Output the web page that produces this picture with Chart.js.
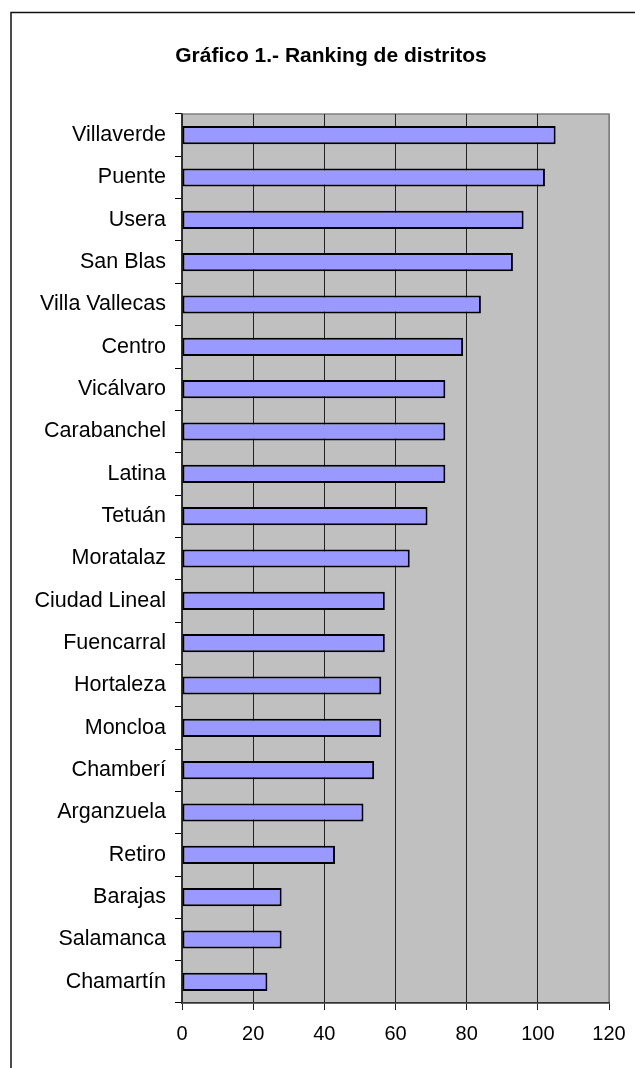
<!DOCTYPE html>
<html>
<head>
<meta charset="utf-8">
<script src="https://cdn.jsdelivr.net/npm/chart.js@4.4.1/dist/chart.umd.min.js"></script>
<style>
  html, body { margin: 0; padding: 0; background: #fff; }
  #wrap { position: relative; width: 635px; height: 1068px; }
</style>
</head>
<body>
<div id="wrap"><canvas id="rankingChart" width="635" height="1068"></canvas></div>
<script>
// Data
const districts = ['Villaverde', 'Puente', 'Usera', 'San Blas', 'Villa Vallecas', 'Centro',
    'Vicálvaro', 'Carabanchel', 'Latina', 'Tetuán', 'Moratalaz', 'Ciudad Lineal',
    'Fuencarral', 'Hortaleza', 'Moncloa', 'Chamberí', 'Arganzuela', 'Retiro',
    'Barajas', 'Salamanca', 'Chamartín'];
const rankingValues = [105, 102, 96, 93, 84, 79, 74, 74, 74, 69, 64, 57, 57, 56, 56, 54, 51, 43, 28, 28, 24];
const xTicks = [0, 20, 40, 60, 80, 100, 120];
const chartTitle = 'Gráfico 1.- Ranking de distritos';

const FONT = "'Liberation Sans', Arial, sans-serif";

// plot background, frame and title
const decorations = {
    id: 'decorations',
    beforeDraw(chart) {
        const { ctx, chartArea: a } = chart;
        ctx.save();
        ctx.fillStyle = '#c0c0c0';
        ctx.fillRect(a.left, a.top, a.right - a.left, a.bottom - a.top);
        ctx.strokeStyle = '#808080';
        ctx.lineWidth = 1.5;
        ctx.strokeRect(a.left, a.top, a.right - a.left, a.bottom - a.top);

        // outer frame (left and top edges)
        ctx.strokeStyle = '#111';
        ctx.lineWidth = 1.5;
        ctx.beginPath();
        ctx.moveTo(11, 1068);
        ctx.lineTo(11, 12.5);
        ctx.lineTo(635, 12.5);
        ctx.stroke();

        ctx.fillStyle = '#000';
        ctx.font = 'bold 21px ' + FONT;
        ctx.textAlign = 'center';
        ctx.textBaseline = 'alphabetic';
        ctx.fillText(chartTitle, 331, 62);
        ctx.restore();
    }
};

const ctx = document.getElementById('rankingChart').getContext('2d');
new Chart(ctx, {
    type: 'bar',
    data: {
        labels: districts,
        datasets: [{
            data: rankingValues,
            backgroundColor: '#9999ff',
            borderColor: '#000',
            borderWidth: 2,
            borderSkipped: false,
            categoryPercentage: 1,
            barPercentage: 0.43
        }]
    },
    options: {
        indexAxis: 'y',
        responsive: false,
        animation: false,
        layout: { padding: { top: 114, right: 26, bottom: 25, left: 0 } },
        plugins: {
            legend: { display: false },
            tooltip: { enabled: false }
        },
        scales: {
            x: {
                min: 0,
                max: 120,
                afterBuildTicks(scale) {
                    scale.ticks = xTicks.map(v => ({ value: v }));
                },
                afterFit(scale) {
                    scale.height = 40;
                    scale.paddingLeft = 0;
                    scale.paddingRight = 0;
                },
                grid: {
                    color: ctx => ctx.tick && ctx.tick.value === 120 ? '#808080' : '#222',
                    lineWidth: 1,
                    tickLength: 7,
                    tickColor: '#222'
                },
                border: { color: '#333', width: 1.5 },
                ticks: {
                    color: '#000',
                    padding: 12,
                    maxRotation: 0,
                    font: { family: FONT, size: 20 }
                }
            },
            y: {
                afterFit(scale) { scale.width = 182; },
                grid: {
                    drawOnChartArea: false,
                    offset: true,
                    tickLength: 7,
                    color: '#000'
                },
                border: { color: '#333', width: 1.5 },
                ticks: {
                    color: '#000',
                    padding: 9,
                    autoSkip: false,
                    font: { family: FONT, size: 21.5 }
                }
            }
        }
    },
    plugins: [decorations]
});
</script>
</body>
</html>
